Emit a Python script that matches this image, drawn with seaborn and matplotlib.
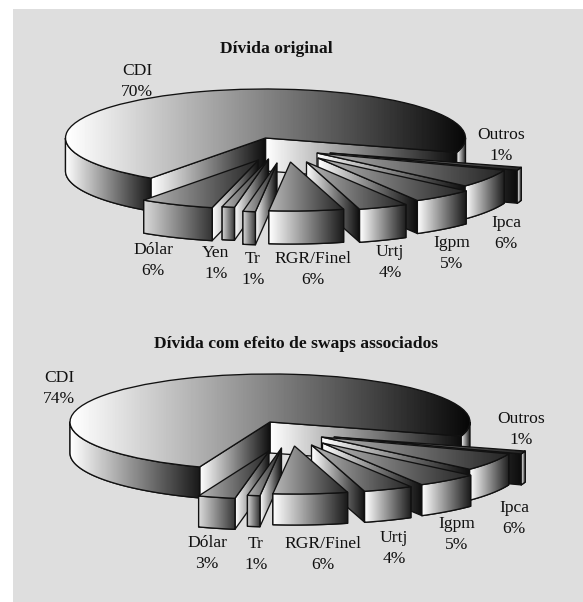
import numpy as np
import matplotlib
matplotlib.use("Agg")
import matplotlib.pyplot as plt
from matplotlib.patches import Polygon, Rectangle
import seaborn as sns

# ---- data ----
title_a = "Dívida original"
cats_a = ["CDI", "Dólar", "Yen", "Tr", "RGR/Finel", "Urtj", "Igpm", "Ipca", "Outros"]
vals_a = [70, 6, 1, 1, 6, 4, 5, 6, 1]

title_b = "Dívida com efeito de swaps associados"
cats_b = ["CDI", "Dólar", "Tr", "RGR/Finel", "Urtj", "Igpm", "Ipca", "Outros"]
vals_b = [74, 3, 1, 6, 4, 5, 6, 1]

# ---- layout (pixels) ----
W, H = 583, 602
PANEL_X, PANEL_Y = 13, 9
geom_a = dict(cx=265.5, cy=138, a=200, b=49, depth=33, start=-17)
geom_b = dict(cx=270, cy=422, a=200, b=48, depth=31, start=-17)
shift_a = {"CDI": (0, 0), "Dólar": (-7, 22), "Yen": (3, 21), "Tr": (11.5, 25), "RGR/Finel": (25, 24),
           "Urtj": (41, 24), "Igpm": (52.5, 20), "Ipca": (51.5, 15), "Outros": (64.5, 15)}
shift_b = {"CDI": (0, 0), "Dólar": (-1, 29), "Tr": (11.5, 26), "RGR/Finel": (24.5, 24),
           "Urtj": (41.5, 23), "Igpm": (52.5, 21), "Ipca": (51.5, 15), "Outros": (64, 15)}
label_a = {"CDI": (137, 81.5), "Dólar": (153, 260.5), "Yen": (216, 263.5), "Tr": (253, 269.5), "RGR/Finel": (313, 269.5),
           "Urtj": (390, 262.5), "Igpm": (452, 253.5), "Ipca": (506, 233.5), "Outros": (501, 145.5)}
label_b = {"CDI": (59, 388.5), "Dólar": (207, 553.5), "Tr": (256, 554.5), "RGR/Finel": (323, 554.5),
           "Urtj": (394, 548.5), "Igpm": (457, 534.5), "Ipca": (514, 518.5), "Outros": (521, 429.5)}
title_pos_a = (276, 49)
title_pos_b = (296, 344)
paint_a = ["CDI", "Outros", "Ipca", "Igpm", "Urtj", "Dólar", "Yen", "Tr", "RGR/Finel"]
paint_b = ["CDI", "Outros", "Ipca", "Igpm", "Urtj", "Dólar", "Tr", "RGR/Finel"]

sns.set_theme(style="white")
plt.rcParams["font.family"] = ["Liberation Serif", "DejaVu Serif"]
TXT = 12.6
INK = "#111111"
LW = 0.95

fig = plt.figure(figsize=(W / 100, H / 100), dpi=100, facecolor="white")
fig.add_artist(Rectangle((PANEL_X / W, 0), 1 - PANEL_X / W, 1 - PANEL_Y / H,
                         transform=fig.transFigure, facecolor="#dedede", edgecolor="none", zorder=-5))


def gradient(ax, clip, pts, g0, g1, z):
    """Horizontal grey ramp over the extent of pts, clipped to a patch."""
    xs, ys = pts[:, 0], pts[:, 1]
    ramp = np.linspace(g0, g1, 128)[None, :]
    im = ax.imshow(ramp, extent=(xs.min(), xs.max(), ys.min(), ys.max()), cmap="gray", vmin=0, vmax=1,
                   aspect="auto", origin="lower", interpolation="bilinear", zorder=z)
    im.set_clip_path(clip)


def face(ax, pts, g0, g1, z):
    p = Polygon(pts, closed=True, facecolor="none", edgecolor=INK, lw=LW, joinstyle="round", zorder=z + 0.5)
    ax.add_patch(p)
    gradient(ax, p, pts, g0, g1, z)


def draw_pie(cats, vals, geom, shifts, paint):
    ax = fig.add_axes([0, 0, 1, 1], facecolor="none")
    a, b = geom["a"], geom["b"]
    d = geom["depth"] / b
    wedges, _ = ax.pie(vals, startangle=geom["start"], counterclock=True, radius=1,
                       colors=sns.color_palette("gray", len(vals)))
    z = 2.0
    for name in paint:
        w = wedges[cats.index(name)]
        big = name == "CDI"
        sx, sy = shifts[name]
        c = np.array([sx / a, -sy / b])
        w.set_center(tuple(c))
        t1, t2 = w.theta1, w.theta2
        rim = lambda t: c + np.array([np.cos(np.radians(t)), np.sin(np.radians(t))])
        drop = np.array([0, -d])
        # straight cut faces that look towards the viewer
        for t, vis in ((t1, np.cos(np.radians(t1)) > 0), (t2, np.cos(np.radians(t2)) < 0)):
            if vis:
                e = rim(t)
                face(ax, np.array([c, e, e + drop, c + drop]), 1.0, 0.05, z)
                z += 1
        # curved outer faces on the lower half
        for lo, hi in ((180, 360), (540, 720)):
            for shift in (0, -360):
                s, f = max(t1, lo + shift), min(t2, hi + shift)
                if f - s > 0.01:
                    ts = np.linspace(s, f, 60)
                    top = np.array([rim(t) for t in ts])
                    pts = np.vstack([top, top[::-1] + drop])
                    g0, g1 = (1.0, 0.1) if big or name in ("RGR/Finel", "Urtj", "Igpm", "Ipca", "Outros") else (0.85, 0.2)
                    face(ax, pts, g0, g1, z)
                    z += 1
        # top surface: the pie wedge itself
        arc = np.array([rim(t) for t in np.linspace(t1, t2, 90)])
        w.set_facecolor("none")
        w.set_edgecolor(INK)
        w.set_linewidth(LW)
        w.set_zorder(z + 0.5)
        g0, g1 = (1.0, 0.03) if big else (0.72, 0.14)
        gradient(ax, w, np.vstack([arc, c]), g0, g1, z)
        z += 1
    ax.set_aspect("auto")
    ax.set_xlim(-geom["cx"] / a, (W - geom["cx"]) / a)
    ax.set_ylim(-(H - geom["cy"]) / b, geom["cy"] / b)
    ax.axis("off")
    return ax


def put_text(pos, s, **kw):
    fig.text(pos[0] / W, 1 - pos[1] / H, s, ha="center", va="center", color=INK, fontsize=TXT, **kw)


for cats, vals, geom, shifts, paint, labels, ttl, tpos in (
        (cats_a, vals_a, geom_a, shift_a, paint_a, label_a, title_a, title_pos_a),
        (cats_b, vals_b, geom_b, shift_b, paint_b, label_b, title_b, title_pos_b)):
    draw_pie(cats, vals, geom, shifts, paint)
    put_text(tpos, ttl, fontweight="bold")
    for n, v in zip(cats, vals):
        put_text(labels[n], f"{n}\n{v}%", linespacing=1.38, multialignment="center")

fig.savefig("out.png", dpi=100)
